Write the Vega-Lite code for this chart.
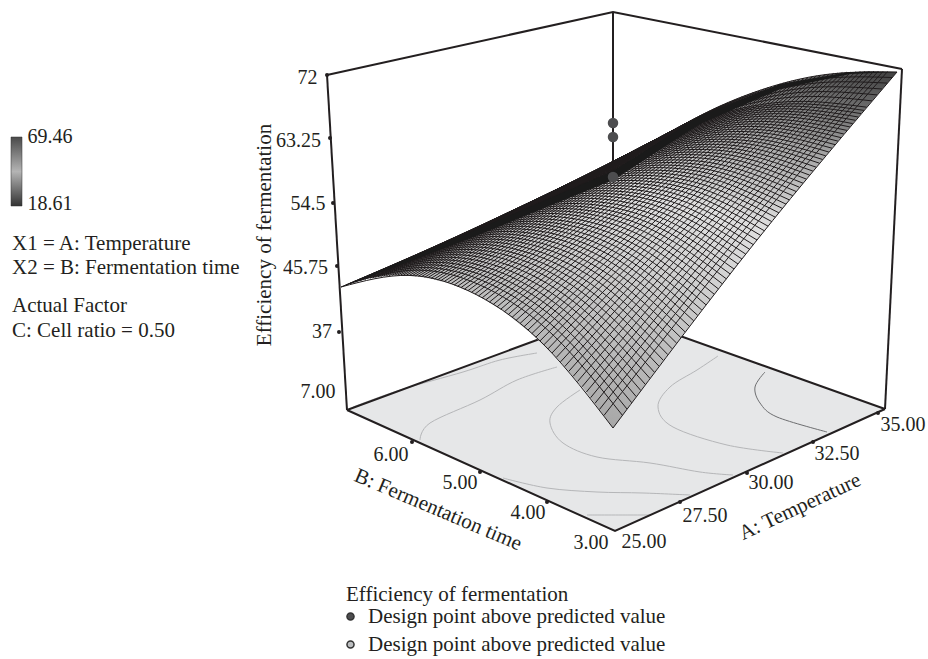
{"$schema":"https://vega.github.io/schema/vega-lite/v6.json","width":928,"height":659,"autosize":{"type":"none"},"padding":0,"background":"white","config":{"view":{"stroke":null},"font":"Liberation Serif","text":{"font":"Liberation Serif","fontSize":20,"color":"#231f20"}},
"datasets":{
"floor":[{"h":347,"v":410,"v2":410},{"h":613,"v":312,"v2":531},{"h":615,"v":312.5,"v2":531},{"h":885,"v":409,"v2":409}],
"contourLight":[{"l":"a","k":0,"h":353,"v":407},{"l":"a","k":1,"h":400,"v":390},{"l":"a","k":2,"h":463,"v":372},{"l":"a","k":3,"h":500,"v":360},{"l":"a","k":4,"h":537,"v":353},{"l":"b","k":0,"h":420,"v":440},{"l":"b","k":1,"h":430,"v":423},{"l":"b","k":2,"h":480,"v":400},{"l":"b","k":3,"h":517,"v":380},{"l":"b","k":4,"h":557,"v":367},{"l":"c","k":0,"h":580,"v":390},{"l":"c","k":1,"h":557,"v":407},{"l":"c","k":2,"h":550,"v":423},{"l":"c","k":3,"h":563,"v":443},{"l":"c","k":4,"h":597,"v":457},{"l":"c","k":5,"h":650,"v":463},{"l":"c","k":6,"h":700,"v":472},{"l":"c","k":7,"h":733,"v":475},{"l":"d","k":0,"h":503,"v":478},{"l":"d","k":1,"h":547,"v":488},{"l":"d","k":2,"h":597,"v":492},{"l":"d","k":3,"h":643,"v":493},{"l":"d","k":4,"h":690,"v":495},{"l":"e","k":0,"h":587,"v":515},{"l":"e","k":1,"h":630,"v":515},{"l":"e","k":2,"h":650,"v":515},{"l":"f","k":0,"h":718,"v":356},{"l":"f","k":1,"h":697,"v":370},{"l":"f","k":2,"h":670,"v":387},{"l":"f","k":3,"h":658,"v":407},{"l":"f","k":4,"h":673,"v":427},{"l":"f","k":5,"h":727,"v":445},{"l":"f","k":6,"h":783,"v":453}],
"contourDark":[{"l":"g","k":0,"h":765,"v":372},{"l":"g","k":1,"h":755,"v":387},{"l":"g","k":2,"h":760,"v":403},{"l":"g","k":3,"h":777,"v":417},{"l":"g","k":4,"h":827,"v":432}],
"box":[{"l":"top","h":327,"v":75},{"l":"top","h":613,"v":12},{"l":"top","h":902,"v":69},{"l":"left","h":327,"v":75},{"l":"left","h":347,"v":410},{"l":"right","h":902,"v":69},{"l":"right","h":885,"v":409},{"l":"back","h":613,"v":12},{"l":"back","h":613,"v":172},{"l":"fb","h":347,"v":410},{"l":"fb","h":613,"v":312},{"l":"fb","h":885,"v":409},{"l":"ff","h":347,"v":410},{"l":"ff","h":615,"v":531},{"l":"ff","h":885,"v":409}],
"ticks":[{"h":327,"v":75},{"h":330,"v":138},{"h":333,"v":203},{"h":337,"v":266},{"h":339,"v":332},{"h":412,"v":442},{"h":480,"v":472},{"h":547,"v":502},{"h":680,"v":502},{"h":747,"v":473},{"h":813,"v":442},{"h":878,"v":413}],
"surface":[{"h":341,"v":287,"v2":287},{"h":368,"v":275.6,"v2":278.6},{"h":395,"v":264.2,"v2":275.2},{"h":423,"v":252.3,"v2":276.8},{"h":450,"v":240.9,"v2":283.4},{"h":477,"v":229.5,"v2":295},{"h":504,"v":218,"v2":311.6},{"h":531,"v":206.7,"v2":333.2},{"h":559,"v":194.8,"v2":359.8},{"h":586,"v":183.4,"v2":391.4},{"h":613,"v":172,"v2":428},{"h":641.4,"v":151.2,"v2":389.7},{"h":669.8,"v":132.8,"v2":352},{"h":698.2,"v":116.8,"v2":314.9},{"h":726.6,"v":103.2,"v2":278.4},{"h":755,"v":92,"v2":242.5},{"h":783.4,"v":83.2,"v2":207.2},{"h":811.8,"v":76.8,"v2":172.5},{"h":840.2,"v":72.8,"v2":138.4},{"h":868.6,"v":71.2,"v2":104.9},{"h":897,"v":72,"v2":72}],
"mesh":[
{"l":0,"h":613,"v":428},{"l":0,"h":545,"v":345.9},{"l":0,"h":477,"v":295},{"l":0,"h":409,"v":275.4},{"l":0,"h":341,"v":287},
{"l":1,"h":622.4,"v":415.3},{"l":1,"h":554.3,"v":336.2},{"l":1,"h":486.2,"v":287.9},{"l":1,"h":418.1,"v":270.1},{"l":1,"h":350,"v":283.2},
{"l":2,"h":631.7,"v":402.7},{"l":2,"h":563.5,"v":326.6},{"l":2,"h":495.4,"v":280.7},{"l":2,"h":427.2,"v":264.9},{"l":2,"h":359,"v":279.4},
{"l":3,"h":640.8,"v":390.5},{"l":3,"h":572.5,"v":317.3},{"l":3,"h":504.3,"v":273.8},{"l":3,"h":436,"v":259.9},{"l":3,"h":367.7,"v":275.7},
{"l":4,"h":649.9,"v":378.3},{"l":4,"h":581.5,"v":308},{"l":4,"h":513.2,"v":266.9},{"l":4,"h":444.8,"v":254.9},{"l":4,"h":376.4,"v":272},
{"l":5,"h":659,"v":366.2},{"l":5,"h":590.5,"v":298.9},{"l":5,"h":522.1,"v":260.1},{"l":5,"h":453.6,"v":249.9},{"l":5,"h":385.1,"v":268.4},
{"l":6,"h":667.8,"v":354.6},{"l":6,"h":599.2,"v":290},{"l":6,"h":530.7,"v":253.5},{"l":6,"h":462.1,"v":245.1},{"l":6,"h":393.5,"v":264.8},
{"l":7,"h":676.6,"v":343.1},{"l":7,"h":607.9,"v":281.2},{"l":7,"h":539.3,"v":246.9},{"l":7,"h":470.6,"v":240.3},{"l":7,"h":401.9,"v":261.2},
{"l":8,"h":685.1,"v":331.9},{"l":8,"h":616.4,"v":272.7},{"l":8,"h":547.6,"v":240.6},{"l":8,"h":478.9,"v":235.7},{"l":8,"h":410.1,"v":257.8},
{"l":9,"h":693.7,"v":320.8},{"l":9,"h":624.8,"v":264.2},{"l":9,"h":556,"v":234.3},{"l":9,"h":487.1,"v":230.9},{"l":9,"h":418.2,"v":254.3},
{"l":10,"h":701.9,"v":310.1},{"l":10,"h":632.9,"v":256.1},{"l":10,"h":564,"v":228.2},{"l":10,"h":495,"v":226.5},{"l":10,"h":426.1,"v":251},
{"l":11,"h":710.1,"v":299.5},{"l":11,"h":641.1,"v":248},{"l":11,"h":572.1,"v":222.2},{"l":11,"h":503,"v":222.2},{"l":11,"h":434,"v":247.7},
{"l":12,"h":718.4,"v":288.9},{"l":12,"h":649.3,"v":240},{"l":12,"h":580.2,"v":216.1},{"l":12,"h":511,"v":217.6},{"l":12,"h":441.9,"v":244.3},
{"l":13,"h":726.3,"v":278.8},{"l":13,"h":657.1,"v":232.3},{"l":13,"h":587.9,"v":210.4},{"l":13,"h":518.7,"v":213.4},{"l":13,"h":449.5,"v":241.1},
{"l":14,"h":734,"v":269},{"l":14,"h":664.7,"v":224.8},{"l":14,"h":595.5,"v":204.8},{"l":14,"h":526.2,"v":209.3},{"l":14,"h":456.9,"v":238},
{"l":15,"h":741.9,"v":259},{"l":15,"h":672.6,"v":217.2},{"l":15,"h":603.2,"v":199.1},{"l":15,"h":533.9,"v":205},{"l":15,"h":464.5,"v":234.8},
{"l":16,"h":749.6,"v":249.3},{"l":16,"h":680.1,"v":209.7},{"l":16,"h":610.7,"v":193.6},{"l":16,"h":541.2,"v":200.9},{"l":16,"h":471.8,"v":231.7},
{"l":17,"h":757,"v":240},{"l":17,"h":687.5,"v":202.7},{"l":17,"h":618,"v":188.4},{"l":17,"h":548.4,"v":197},{"l":17,"h":478.9,"v":228.7},
{"l":18,"h":764.4,"v":230.8},{"l":18,"h":694.8,"v":195.6},{"l":18,"h":625.2,"v":183},{"l":18,"h":555.6,"v":193.1},{"l":18,"h":486,"v":225.7},
{"l":19,"h":771.8,"v":221.6},{"l":19,"h":702.1,"v":188.7},{"l":19,"h":632.4,"v":177.9},{"l":19,"h":562.7,"v":189.2},{"l":19,"h":493,"v":222.7},
{"l":20,"h":778.9,"v":212.8},{"l":20,"h":709.1,"v":182},{"l":20,"h":639.4,"v":172.8},{"l":20,"h":569.6,"v":185.5},{"l":20,"h":499.8,"v":219.8},
{"l":21,"h":786,"v":204.1},{"l":21,"h":716.2,"v":175.4},{"l":21,"h":646.3,"v":167.9},{"l":21,"h":576.5,"v":181.8},{"l":21,"h":506.6,"v":217},
{"l":22,"h":792.8,"v":195.7},{"l":22,"h":722.9,"v":169},{"l":22,"h":653,"v":163.1},{"l":22,"h":583.1,"v":178.2},{"l":22,"h":513.2,"v":214.2},
{"l":23,"h":799.6,"v":187.3},{"l":23,"h":729.6,"v":162.5},{"l":23,"h":659.7,"v":158.2},{"l":23,"h":589.7,"v":174.5},{"l":23,"h":519.7,"v":211.4},
{"l":24,"h":806.4,"v":179.1},{"l":24,"h":736.4,"v":156.2},{"l":24,"h":666.3,"v":153.5},{"l":24,"h":596.3,"v":171},{"l":24,"h":526.2,"v":208.7},
{"l":25,"h":812.9,"v":171.1},{"l":25,"h":742.8,"v":150.1},{"l":25,"h":672.7,"v":149},{"l":25,"h":602.6,"v":167.6},{"l":25,"h":532.5,"v":206},
{"l":26,"h":819.5,"v":163.2},{"l":26,"h":749.3,"v":144.1},{"l":26,"h":679.1,"v":144.4},{"l":26,"h":608.9,"v":164.2},{"l":26,"h":538.7,"v":203.4},
{"l":27,"h":825.7,"v":155.8},{"l":27,"h":755.5,"v":138.5},{"l":27,"h":685.2,"v":140.2},{"l":27,"h":615,"v":161.1},{"l":27,"h":544.7,"v":200.9},
{"l":28,"h":832,"v":148.2},{"l":28,"h":761.7,"v":132.7},{"l":28,"h":691.4,"v":135.8},{"l":28,"h":621,"v":157.7},{"l":28,"h":550.7,"v":198.3},
{"l":29,"h":837.9,"v":141.1},{"l":29,"h":767.5,"v":127.2},{"l":29,"h":697.2,"v":131.7},{"l":29,"h":626.8,"v":154.6},{"l":29,"h":556.4,"v":195.9},
{"l":30,"h":843.9,"v":134},{"l":30,"h":773.5,"v":121.8},{"l":30,"h":703,"v":127.7},{"l":30,"h":632.6,"v":151.5},{"l":30,"h":562.1,"v":193.5},
{"l":31,"h":849.9,"v":126.9},{"l":31,"h":779.4,"v":116.4},{"l":31,"h":708.9,"v":123.6},{"l":31,"h":638.3,"v":148.4},{"l":31,"h":567.8,"v":191.1},
{"l":32,"h":855.5,"v":120.3},{"l":32,"h":785,"v":111.3},{"l":32,"h":714.4,"v":119.8},{"l":32,"h":643.9,"v":145.6},{"l":32,"h":573.3,"v":188.8},
{"l":33,"h":861.2,"v":113.6},{"l":33,"h":790.6,"v":106.2},{"l":33,"h":720,"v":116},{"l":33,"h":649.3,"v":142.7},{"l":33,"h":578.7,"v":186.5},
{"l":34,"h":866.6,"v":107.2},{"l":34,"h":795.9,"v":101.4},{"l":34,"h":725.3,"v":112.3},{"l":34,"h":654.6,"v":139.9},{"l":34,"h":583.9,"v":184.3},
{"l":35,"h":872,"v":100.9},{"l":35,"h":801.3,"v":96.6},{"l":35,"h":730.6,"v":108.6},{"l":35,"h":659.8,"v":137.2},{"l":35,"h":589.1,"v":182.1},
{"l":36,"h":877.1,"v":94.9},{"l":36,"h":806.3,"v":92},{"l":36,"h":735.6,"v":105.2},{"l":36,"h":664.8,"v":134.5},{"l":36,"h":594,"v":180},
{"l":37,"h":882.2,"v":89},{"l":37,"h":811.4,"v":87.5},{"l":37,"h":740.6,"v":101.8},{"l":37,"h":669.7,"v":132},{"l":37,"h":598.9,"v":178},
{"l":38,"h":887.3,"v":83.1},{"l":38,"h":816.4,"v":83},{"l":38,"h":745.6,"v":98.4},{"l":38,"h":674.7,"v":129.4},{"l":38,"h":603.8,"v":175.9},
{"l":39,"h":892.2,"v":77.5},{"l":39,"h":821.2,"v":78.7},{"l":39,"h":750.3,"v":95.2},{"l":39,"h":679.3,"v":127},{"l":39,"h":608.4,"v":174},
{"l":40,"h":897,"v":72},{"l":40,"h":826,"v":74.5},{"l":40,"h":755,"v":92},{"l":40,"h":684,"v":124.5},{"l":40,"h":613,"v":172},
{"l":41,"h":627,"v":409},{"l":41,"h":558.9,"v":331.4},{"l":41,"h":490.8,"v":284.3},{"l":41,"h":422.6,"v":267.5},{"l":41,"h":354.5,"v":281.3},
{"l":42,"h":636.2,"v":396.6},{"l":42,"h":568,"v":322},{"l":42,"h":499.8,"v":277.2},{"l":42,"h":431.6,"v":262.4},{"l":42,"h":363.3,"v":277.5},
{"l":43,"h":645.3,"v":384.4},{"l":43,"h":577,"v":312.6},{"l":43,"h":508.7,"v":270.3},{"l":43,"h":440.4,"v":257.4},{"l":43,"h":372,"v":273.8},
{"l":44,"h":654.4,"v":372.2},{"l":44,"h":586,"v":303.4},{"l":44,"h":517.6,"v":263.5},{"l":44,"h":449.2,"v":252.4},{"l":44,"h":380.7,"v":270.2},
{"l":45,"h":663.4,"v":360.4},{"l":45,"h":594.8,"v":294.4},{"l":45,"h":526.4,"v":256.8},{"l":45,"h":457.8,"v":247.5},{"l":45,"h":389.3,"v":266.6},
{"l":46,"h":672.2,"v":348.8},{"l":46,"h":603.6,"v":285.6},{"l":46,"h":535,"v":250.2},{"l":46,"h":466.4,"v":242.7},{"l":46,"h":397.7,"v":263},
{"l":47,"h":680.8,"v":337.5},{"l":47,"h":612.1,"v":277},{"l":47,"h":543.4,"v":243.8},{"l":47,"h":474.8,"v":238},{"l":47,"h":406,"v":259.5},
{"l":48,"h":689.4,"v":326.3},{"l":48,"h":620.6,"v":268.4},{"l":48,"h":551.8,"v":237.4},{"l":48,"h":483,"v":233.3},{"l":48,"h":414.1,"v":256},
{"l":49,"h":697.8,"v":315.4},{"l":49,"h":628.9,"v":260.1},{"l":49,"h":560,"v":231.2},{"l":49,"h":491,"v":228.7},{"l":49,"h":422.1,"v":252.6},
{"l":50,"h":706,"v":304.8},{"l":50,"h":637,"v":252},{"l":50,"h":568,"v":225.2},{"l":50,"h":499,"v":224.3},{"l":50,"h":430,"v":249.3},
{"l":51,"h":714.2,"v":294.2},{"l":51,"h":645.2,"v":244},{"l":51,"h":576.1,"v":219.1},{"l":51,"h":507,"v":219.9},{"l":51,"h":438,"v":246},
{"l":52,"h":722.3,"v":283.8},{"l":52,"h":653.2,"v":236.1},{"l":52,"h":584,"v":213.2},{"l":52,"h":514.8,"v":215.5},{"l":52,"h":445.7,"v":242.7},
{"l":53,"h":730.1,"v":273.9},{"l":53,"h":660.9,"v":228.5},{"l":53,"h":591.7,"v":207.6},{"l":53,"h":522.4,"v":211.3},{"l":53,"h":453.2,"v":239.5},
{"l":54,"h":738,"v":264},{"l":54,"h":668.6,"v":221},{"l":54,"h":599.3,"v":202},{"l":54,"h":530,"v":207.1},{"l":54,"h":460.7,"v":236.4},
{"l":55,"h":745.7,"v":254.1},{"l":55,"h":676.3,"v":213.4},{"l":55,"h":607,"v":196.3},{"l":55,"h":537.5,"v":203},{"l":55,"h":468.1,"v":233.2},
{"l":56,"h":753.3,"v":244.6},{"l":56,"h":683.8,"v":206.2},{"l":56,"h":614.3,"v":191},{"l":56,"h":544.8,"v":199},{"l":56,"h":475.3,"v":230.2},
{"l":57,"h":760.7,"v":235.4},{"l":57,"h":691.1,"v":199.1},{"l":57,"h":621.6,"v":185.7},{"l":57,"h":552,"v":195},{"l":57,"h":482.4,"v":227.2},
{"l":58,"h":768.1,"v":226.2},{"l":58,"h":698.4,"v":192.1},{"l":58,"h":628.8,"v":180.4},{"l":58,"h":559.1,"v":191.1},{"l":58,"h":489.5,"v":224.2},
{"l":59,"h":775.3,"v":217.2},{"l":59,"h":705.6,"v":185.3},{"l":59,"h":635.9,"v":175.3},{"l":59,"h":566.1,"v":187.3},{"l":59,"h":496.4,"v":221.2},
{"l":60,"h":782.4,"v":208.4},{"l":60,"h":712.6,"v":178.7},{"l":60,"h":642.8,"v":170.3},{"l":60,"h":573,"v":183.6},{"l":60,"h":503.2,"v":218.4},
{"l":61,"h":789.4,"v":199.9},{"l":61,"h":719.5,"v":172.2},{"l":61,"h":649.6,"v":165.5},{"l":61,"h":579.8,"v":180},{"l":61,"h":509.9,"v":215.6},
{"l":62,"h":796.2,"v":191.5},{"l":62,"h":726.2,"v":165.8},{"l":62,"h":656.3,"v":160.6},{"l":62,"h":586.4,"v":176.3},{"l":62,"h":516.4,"v":212.8},
{"l":63,"h":803,"v":183.2},{"l":63,"h":733,"v":159.3},{"l":63,"h":663,"v":155.8},{"l":63,"h":593,"v":172.7},{"l":63,"h":523,"v":210},
{"l":64,"h":809.6,"v":175.1},{"l":64,"h":739.6,"v":153.1},{"l":64,"h":669.5,"v":151.2},{"l":64,"h":599.4,"v":169.3},{"l":64,"h":529.3,"v":207.3},
{"l":65,"h":816.2,"v":167.2},{"l":65,"h":746,"v":147.1},{"l":65,"h":675.9,"v":146.7},{"l":65,"h":605.7,"v":165.9},{"l":65,"h":535.6,"v":204.7},
{"l":66,"h":822.6,"v":159.5},{"l":66,"h":752.4,"v":141.3},{"l":66,"h":682.2,"v":142.3},{"l":66,"h":612,"v":162.6},{"l":66,"h":541.7,"v":202.2},
{"l":67,"h":828.8,"v":152},{"l":67,"h":758.6,"v":135.6},{"l":67,"h":688.3,"v":138},{"l":67,"h":618,"v":159.4},{"l":67,"h":547.7,"v":199.6},
{"l":68,"h":835,"v":144.6},{"l":68,"h":764.6,"v":130},{"l":68,"h":694.3,"v":133.8},{"l":68,"h":623.9,"v":156.2},{"l":68,"h":553.5,"v":197.1},
{"l":69,"h":840.9,"v":137.6},{"l":69,"h":770.5,"v":124.5},{"l":69,"h":700.1,"v":129.7},{"l":69,"h":629.7,"v":153},{"l":69,"h":559.2,"v":194.7},
{"l":70,"h":846.9,"v":130.4},{"l":70,"h":776.4,"v":119.1},{"l":70,"h":706,"v":125.6},{"l":70,"h":635.4,"v":150},{"l":70,"h":565,"v":192.3},
{"l":71,"h":852.7,"v":123.6},{"l":71,"h":782.2,"v":113.8},{"l":71,"h":711.6,"v":121.7},{"l":71,"h":641.1,"v":147},{"l":71,"h":570.5,"v":190},
{"l":72,"h":858.3,"v":117},{"l":72,"h":787.8,"v":108.8},{"l":72,"h":717.2,"v":117.9},{"l":72,"h":646.6,"v":144.2},{"l":72,"h":576,"v":187.6},
{"l":73,"h":863.9,"v":110.4},{"l":73,"h":793.2,"v":103.8},{"l":73,"h":722.6,"v":114.2},{"l":73,"h":652,"v":141.3},{"l":73,"h":581.3,"v":185.4},
{"l":100,"h":613,"v":428},{"l":100,"h":755,"v":242.5},{"l":100,"h":897,"v":72},
{"l":101,"h":604,"v":415.4},{"l":101,"h":745.8,"v":236.2},{"l":101,"h":887.6,"v":71.5},
{"l":102,"h":595,"v":403.3},{"l":102,"h":736.7,"v":230.2},{"l":102,"h":878.3,"v":71.2},
{"l":103,"h":586.3,"v":392.1},{"l":103,"h":727.8,"v":224.8},{"l":103,"h":869.2,"v":71.2},
{"l":104,"h":577.6,"v":381.4},{"l":104,"h":718.9,"v":219.9},{"l":104,"h":860.1,"v":71.4},
{"l":105,"h":568.9,"v":371.2},{"l":105,"h":710,"v":215.3},{"l":105,"h":851,"v":71.9},
{"l":106,"h":560.5,"v":361.9},{"l":106,"h":701.3,"v":211.2},{"l":106,"h":842.2,"v":72.6},
{"l":107,"h":552.1,"v":352.9},{"l":107,"h":692.7,"v":207.4},{"l":107,"h":833.4,"v":73.5},
{"l":108,"h":543.9,"v":344.8},{"l":108,"h":684.4,"v":204.1},{"l":108,"h":824.9,"v":74.7},
{"l":109,"h":535.8,"v":337.2},{"l":109,"h":676,"v":201.2},{"l":109,"h":816.3,"v":76},
{"l":110,"h":527.9,"v":330.1},{"l":110,"h":668,"v":198.6},{"l":110,"h":808.1,"v":77.5},
{"l":111,"h":520,"v":323.5},{"l":111,"h":659.9,"v":196.5},{"l":111,"h":799.9,"v":79.2},
{"l":112,"h":512.1,"v":317.3},{"l":112,"h":651.9,"v":194.5},{"l":112,"h":791.6,"v":81.1},
{"l":113,"h":504.5,"v":311.7},{"l":113,"h":644,"v":192.9},{"l":113,"h":783.7,"v":83.1},
{"l":114,"h":497.1,"v":306.8},{"l":114,"h":636.6,"v":191.8},{"l":114,"h":776,"v":85.3},
{"l":115,"h":489.5,"v":302},{"l":115,"h":628.8,"v":190.7},{"l":115,"h":768,"v":87.7},
{"l":116,"h":482.2,"v":297.8},{"l":116,"h":621.3,"v":190},{"l":116,"h":760.4,"v":90.1},
{"l":117,"h":475.1,"v":294},{"l":117,"h":614,"v":189.6},{"l":117,"h":753,"v":92.7},
{"l":118,"h":468,"v":290.6},{"l":118,"h":606.8,"v":189.6},{"l":118,"h":745.6,"v":95.4},
{"l":119,"h":461,"v":287.6},{"l":119,"h":599.6,"v":189.6},{"l":119,"h":738.2,"v":98.3},
{"l":120,"h":454.2,"v":285},{"l":120,"h":592.6,"v":190},{"l":120,"h":731.1,"v":101.3},
{"l":121,"h":447.4,"v":282.6},{"l":121,"h":585.7,"v":190.6},{"l":121,"h":724,"v":104.3},
{"l":122,"h":440.8,"v":280.6},{"l":122,"h":579,"v":191.3},{"l":122,"h":717.2,"v":107.4},
{"l":123,"h":434.3,"v":279.1},{"l":123,"h":572.4,"v":192.3},{"l":123,"h":710.4,"v":110.7},
{"l":124,"h":427.8,"v":277.7},{"l":124,"h":565.7,"v":193.4},{"l":124,"h":703.6,"v":114},
{"l":125,"h":421.5,"v":276.6},{"l":125,"h":559.3,"v":194.7},{"l":125,"h":697.1,"v":117.4},
{"l":126,"h":415.3,"v":275.9},{"l":126,"h":552.9,"v":196.3},{"l":126,"h":690.5,"v":120.9},
{"l":127,"h":409.3,"v":275.4},{"l":127,"h":546.8,"v":198},{"l":127,"h":684.3,"v":124.3},
{"l":128,"h":403.3,"v":275.1},{"l":128,"h":540.7,"v":199.8},{"l":128,"h":678,"v":127.9},
{"l":129,"h":397.6,"v":275.1},{"l":129,"h":534.8,"v":201.7},{"l":129,"h":672.1,"v":131.4},
{"l":130,"h":391.9,"v":275.4},{"l":130,"h":529,"v":203.8},{"l":130,"h":666.1,"v":135.1},
{"l":131,"h":386.2,"v":275.8},{"l":131,"h":523.1,"v":206.1},{"l":131,"h":660.1,"v":138.8},
{"l":132,"h":380.7,"v":276.4},{"l":132,"h":517.6,"v":208.3},{"l":132,"h":654.5,"v":142.4},
{"l":133,"h":375.3,"v":277.3},{"l":133,"h":512,"v":210.7},{"l":133,"h":648.8,"v":146.2},
{"l":134,"h":370.1,"v":278.2},{"l":134,"h":506.7,"v":213.2},{"l":134,"h":643.4,"v":149.8},
{"l":135,"h":364.9,"v":279.3},{"l":135,"h":501.5,"v":215.7},{"l":135,"h":638,"v":153.6},
{"l":136,"h":360,"v":280.6},{"l":136,"h":496.5,"v":218.4},{"l":136,"h":632.9,"v":157.2},
{"l":137,"h":355.1,"v":282},{"l":137,"h":491.5,"v":221.1},{"l":137,"h":627.8,"v":160.9},
{"l":138,"h":350.2,"v":283.6},{"l":138,"h":486.5,"v":223.8},{"l":138,"h":622.7,"v":164.7},
{"l":139,"h":345.6,"v":285.2},{"l":139,"h":481.7,"v":226.6},{"l":139,"h":617.8,"v":168.3},
{"l":140,"h":341,"v":287},{"l":140,"h":477,"v":229.5},{"l":140,"h":613,"v":172},
{"l":141,"h":599.5,"v":409.4},{"l":141,"h":741.2,"v":233.2},{"l":141,"h":883,"v":71.4},
{"l":142,"h":590.6,"v":397.7},{"l":142,"h":732.2,"v":227.5},{"l":142,"h":873.8,"v":71.2},
{"l":143,"h":582,"v":386.8},{"l":143,"h":723.4,"v":222.4},{"l":143,"h":864.6,"v":71.3},
{"l":144,"h":573.2,"v":376.3},{"l":144,"h":714.4,"v":217.6},{"l":144,"h":855.6,"v":71.6},
{"l":145,"h":564.7,"v":366.6},{"l":145,"h":705.6,"v":213.2},{"l":145,"h":846.6,"v":72.2},
{"l":146,"h":556.3,"v":357.4},{"l":146,"h":697,"v":209.3},{"l":146,"h":837.8,"v":73},
{"l":147,"h":548,"v":348.8},{"l":147,"h":688.6,"v":205.8},{"l":147,"h":829.2,"v":74.1},
{"l":148,"h":539.9,"v":341},{"l":148,"h":680.2,"v":202.6},{"l":148,"h":820.6,"v":75.4},
{"l":149,"h":531.8,"v":333.6},{"l":149,"h":672,"v":199.9},{"l":149,"h":812.2,"v":76.8},
{"l":150,"h":524,"v":326.8},{"l":150,"h":664,"v":197.6},{"l":150,"h":804,"v":78.4},
{"l":151,"h":516,"v":320.4},{"l":151,"h":655.9,"v":195.5},{"l":151,"h":795.8,"v":80.2},
{"l":152,"h":508.3,"v":314.5},{"l":152,"h":648,"v":193.7},{"l":152,"h":787.6,"v":82.1},
{"l":153,"h":500.8,"v":309.2},{"l":153,"h":640.3,"v":192.4},{"l":153,"h":779.8,"v":84.2},
{"l":154,"h":493.3,"v":304.4},{"l":154,"h":632.7,"v":191.2},{"l":154,"h":772,"v":86.5},
{"l":155,"h":485.8,"v":299.9},{"l":155,"h":625,"v":190.4},{"l":155,"h":764.2,"v":88.9},
{"l":156,"h":478.6,"v":295.9},{"l":156,"h":617.6,"v":189.8},{"l":156,"h":756.7,"v":91.4},
{"l":157,"h":471.6,"v":292.3},{"l":157,"h":610.4,"v":189.6},{"l":157,"h":749.3,"v":94},
{"l":158,"h":464.5,"v":289.1},{"l":158,"h":603.2,"v":189.6},{"l":158,"h":741.9,"v":96.8},
{"l":159,"h":457.6,"v":286.3},{"l":159,"h":596.1,"v":189.8},{"l":159,"h":734.6,"v":99.8},
{"l":160,"h":450.8,"v":283.8},{"l":160,"h":589.2,"v":190.3},{"l":160,"h":727.6,"v":102.8},
{"l":161,"h":444.1,"v":281.6},{"l":161,"h":582.4,"v":191},{"l":161,"h":720.6,"v":105.8},
{"l":162,"h":437.6,"v":279.8},{"l":162,"h":575.7,"v":191.8},{"l":162,"h":713.8,"v":109},
{"l":163,"h":431,"v":278.4},{"l":163,"h":569,"v":192.8},{"l":163,"h":707,"v":112.4},
{"l":164,"h":424.6,"v":277.2},{"l":164,"h":562.5,"v":194},{"l":164,"h":700.4,"v":115.7},
{"l":165,"h":418.4,"v":276.2},{"l":165,"h":556.1,"v":195.5},{"l":165,"h":693.8,"v":119.2},
{"l":166,"h":412.3,"v":275.6},{"l":166,"h":549.8,"v":197.2},{"l":166,"h":687.4,"v":122.6},
{"l":167,"h":406.3,"v":275.2},{"l":167,"h":543.8,"v":198.9},{"l":167,"h":681.2,"v":126.1},
{"l":168,"h":400.4,"v":275.1},{"l":168,"h":537.8,"v":200.8},{"l":168,"h":675,"v":129.6},
{"l":169,"h":394.8,"v":275.2},{"l":169,"h":531.9,"v":202.8},{"l":169,"h":669.1,"v":133.2},
{"l":170,"h":389,"v":275.6},{"l":170,"h":526,"v":205},{"l":170,"h":663.1,"v":137},
{"l":171,"h":383.4,"v":276.1},{"l":171,"h":520.4,"v":207.2},{"l":171,"h":657.3,"v":140.6},
{"l":172,"h":378,"v":276.8},{"l":172,"h":514.8,"v":209.5},{"l":172,"h":651.6,"v":144.3},
{"l":173,"h":372.7,"v":277.8},{"l":173,"h":509.4,"v":212},{"l":173,"h":646.1,"v":148}],
"band":[{"h":341,"v":287,"v2":287},{"h":400,"v":262,"v2":265},{"h":477,"v":229.5,"v2":235.5},{"h":613,"v":171,"v2":180},{"h":700,"v":116,"v2":124},{"h":780,"v":84,"v2":89},{"h":850,"v":72,"v2":74},{"h":897,"v":72,"v2":72}],
"points":[{"h":613,"v":123,"kind":"Design point above predicted value"},{"h":613,"v":137,"kind":"Design point above predicted value"},{"h":613,"v":177,"kind":"Design point above predicted value"}],
"bar":[{"h":11,"h2":22,"v":137,"v2":206}],
"labels":[{"t":"72","h":307.5,"v":78},{"t":"63.25","h":298.5,"v":141},{"t":"54.5","h":308,"v":204},{"t":"45.75","h":305.5,"v":268},{"t":"37","h":322,"v":332},{"t":"7.00","h":318,"v":392},{"t":"6.00","h":391,"v":455},{"t":"5.00","h":460,"v":483},{"t":"4.00","h":528,"v":513},{"t":"3.00","h":591,"v":543},{"t":"25.00","h":644,"v":542},{"t":"27.50","h":705,"v":516},{"t":"30.00","h":771,"v":483},{"t":"32.50","h":837,"v":454},{"t":"35.00","h":903,"v":425},{"t":"69.46","h":50,"v":137},{"t":"18.61","h":50,"v":204}],
"notes":[{"t":"X1 = A: Temperature","h":12,"v":244},{"t":"X2 = B: Fermentation time","h":12,"v":268},{"t":"Actual Factor","h":12,"v":306},{"t":"C: Cell ratio = 0.50","h":12,"v":331}],
"titleZ":[{"t":"Efficiency of fermentation","h":265,"v":235}],
"titleB":[{"t":"B: Fermentation time","h":438,"v":510}],
"titleA":[{"t":"A: Temperature","h":800,"v":507}]
},
"encoding":{"x":{"field":"h","type":"quantitative","scale":{"domain":[0,928],"nice":false,"zero":false},"axis":null},"y":{"field":"v","type":"quantitative","scale":{"domain":[0,659],"reverse":true,"nice":false,"zero":false},"axis":null}},
"layer":[
{"data":{"name":"floor"},"mark":{"type":"area","fill":"#e6e7e8"},"encoding":{"y2":{"field":"v2"}}},
{"data":{"name":"contourLight"},"mark":{"type":"line","stroke":"#b5b6b8","strokeWidth":1,"interpolate":"cardinal"},"encoding":{"detail":{"field":"l"},"order":{"field":"k"}}},
{"data":{"name":"contourDark"},"mark":{"type":"line","stroke":"#6d6e70","strokeWidth":1,"interpolate":"cardinal"},"encoding":{"detail":{"field":"l"},"order":{"field":"k"}}},
{"data":{"name":"box"},"mark":{"type":"line","stroke":"#231f20","strokeWidth":2},"encoding":{"detail":{"field":"l"}}},
{"data":{"name":"ticks"},"mark":{"type":"point","shape":"circle","filled":true,"size":16,"color":"#231f20","opacity":1}},
{"data":{"name":"surface"},"mark":{"type":"area","fill":{"gradient":"linear","x1":0.5,"y1":1,"x2":1,"y2":0,"stops":[{"offset":0,"color":"#a8a8a8"},{"offset":0.15,"color":"#b8b8b8"},{"offset":0.4,"color":"#d2d2d2"},{"offset":0.55,"color":"#e0e0e0"},{"offset":0.75,"color":"#a8a8a8"},{"offset":1,"color":"#3f3f3f"}]}},"encoding":{"y2":{"field":"v2"}}},
{"data":{"name":"mesh"},"mark":{"type":"line","stroke":"#1f1b1c","strokeWidth":1,"interpolate":"natural"},"encoding":{"detail":{"field":"l"}}},
{"data":{"name":"band"},"mark":{"type":"area","fill":"#1a1a1a"},"encoding":{"y2":{"field":"v2"}}},
{"data":{"name":"points"},"mark":{"type":"point","shape":"circle","filled":true,"size":110,"opacity":1},"encoding":{"color":{"field":"kind","type":"nominal","scale":{"domain":["Design point above predicted value","Design point above predicted value (light)"],"range":["#4d4d4f","#bcbec0"]},"legend":{"orient":"none","legendX":346,"legendY":584,"title":"Efficiency of fermentation","titleFont":"Liberation Serif","titleFontSize":21,"titleFontWeight":"normal","titleColor":"#231f20","titleLimit":400,"labelFont":"Liberation Serif","labelFontSize":21,"labelColor":"#231f20","labelLimit":400,"labelExpr":"'Design point above predicted value'","symbolSize":50,"symbolType":"circle","symbolStrokeColor":"#333","symbolOffset":-6,"rowPadding":6,"labelOffset":7,"titlePadding":1,"padding":0}}}},
{"data":{"name":"bar"},"mark":{"type":"rect","stroke":"#333","strokeWidth":0.5,"fill":{"gradient":"linear","x1":0,"y1":0,"x2":0,"y2":1,"stops":[{"offset":0,"color":"#4a4a4a"},{"offset":0.5,"color":"#b4b4b4"},{"offset":1,"color":"#333333"}]}},"encoding":{"x2":{"field":"h2"},"y2":{"field":"v2"}}},
{"data":{"name":"labels"},"mark":{"type":"text","align":"center","baseline":"middle"},"encoding":{"text":{"field":"t"}}},
{"data":{"name":"notes"},"mark":{"type":"text","align":"left","baseline":"middle","fontSize":21},"encoding":{"text":{"field":"t"}}},
{"data":{"name":"titleZ"},"mark":{"type":"text","align":"center","baseline":"middle","angle":270,"fontSize":21},"encoding":{"text":{"field":"t"}}},
{"data":{"name":"titleB"},"mark":{"type":"text","align":"center","baseline":"middle","angle":23,"fontSize":21},"encoding":{"text":{"field":"t"}}},
{"data":{"name":"titleA"},"mark":{"type":"text","align":"center","baseline":"middle","angle":335,"fontSize":21},"encoding":{"text":{"field":"t"}}}
]}
